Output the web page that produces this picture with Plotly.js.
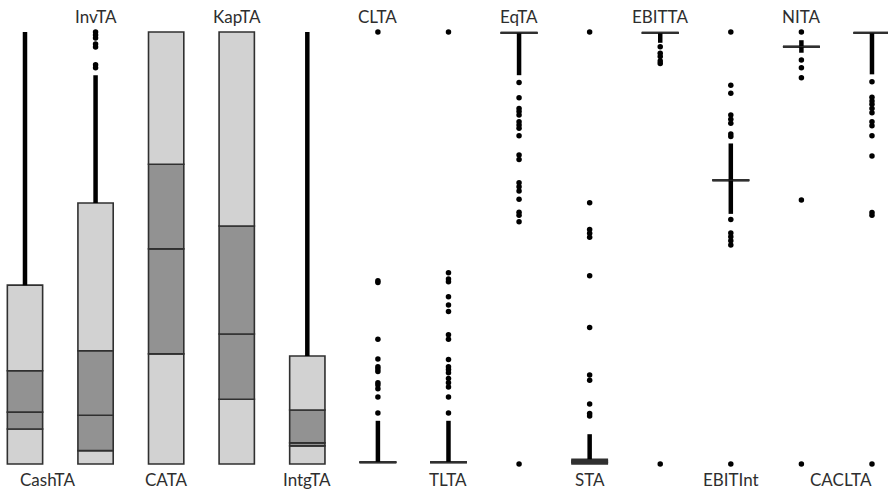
<!DOCTYPE html>
<html>
<head>
<meta charset="utf-8">
<script src="https://cdn.plot.ly/plotly-3.0.1.min.js"></script>
<style>html,body{margin:0;padding:0;background:#fff;}#chart{width:888px;height:493px;}</style>
</head>
<body>
<div id="chart"></div>
<script>
// Variable names (columns, normalised 0..1 each)
const names = ['CashTA','InvTA','CATA','KapTA','IntgTA','CLTA','TLTA','EqTA','STA','EBITTA','EBITInt','NITA','CACLTA'];

// Box boundaries (outer low, lower quartile, median, upper quartile, outer high)
const boxLo  = [0.000, 0.000, 0.000, 0.000, 0.000, 0.0030, 0.0030, 0.9970, 0.000, 0.9970, 0.6560, 0.9650, 0.9970];
const boxQ1  = [0.081, 0.031, 0.255, 0.150, 0.042, 0.0035, 0.0035, 0.9975, 0.003, 0.9975, 0.6565, 0.9655, 0.9975];
const boxMed = [0.120, 0.113, 0.498, 0.301, 0.049, 0.0040, 0.0040, 0.9980, 0.005, 0.9980, 0.6570, 0.9660, 0.9980];
const boxQ3  = [0.216, 0.262, 0.694, 0.551, 0.125, 0.0045, 0.0045, 0.9985, 0.008, 0.9985, 0.6575, 0.9665, 0.9985];
const boxHi  = [0.414, 0.604, 1.000, 1.000, 0.250, 0.0050, 0.0050, 0.9990, 0.011, 0.9990, 0.6580, 0.9670, 0.9990];

// Dense-point runs (whiskers) above / below the boxes (null = none)
const whiskerTop    = [1.000, 0.900, null, null, 1.000, 0.100, 0.100, null, 0.069, null, 0.742, 0.981, null];
const whiskerBottom = [null, null, null, null, null, null, null, 0.900, null, 0.975, 0.579, 0.952, 0.902];

// Individual outlying points per variable
const outCashTA  = [];
const outInvTA   = [1.000, 0.993, 0.986, 0.972, 0.965, 0.924, 0.917];
const outCATA    = [];
const outKapTA   = [];
const outIntgTA  = [];
const outCLTA    = [1.000, 0.424, 0.420, 0.289, 0.243, 0.225, 0.220, 0.214, 0.188, 0.183, 0.174, 0.155, 0.118];
const outTLTA    = [1.000, 0.443, 0.428, 0.422, 0.387, 0.368, 0.353, 0.299, 0.289, 0.242, 0.225, 0.219, 0.211, 0.198, 0.188, 0.178, 0.155, 0.118];
const outEqTA    = [0.883, 0.848, 0.823, 0.816, 0.808, 0.792, 0.785, 0.777, 0.760, 0.715, 0.705, 0.651, 0.642, 0.632, 0.613, 0.583, 0.576, 0.561, 0.000];
const outSTA     = [1.000, 0.605, 0.543, 0.534, 0.525, 0.436, 0.316, 0.206, 0.194, 0.139, 0.117, 0.111];
const outEBITTA  = [0.966, 0.951, 0.943, 0.933, 0.927, 0.000];
const outEBITInt = [1.000, 0.877, 0.858, 0.808, 0.798, 0.789, 0.764, 0.758, 0.566, 0.535, 0.526, 0.517, 0.507, 0.000];
const outNITA    = [1.000, 0.935, 0.917, 0.894, 0.611, 0.000];
const outCACLTA  = [0.885, 0.849, 0.840, 0.833, 0.823, 0.813, 0.792, 0.783, 0.760, 0.713, 0.582, 0.576, 0.000];
const outliers = [outCashTA, outInvTA, outCATA, outKapTA, outIntgTA, outCLTA, outTLTA, outEqTA, outSTA, outEBITTA, outEBITInt, outNITA, outCACLTA];

const idx = names.map((_, i) => i);
const LIGHT = '#d2d2d2', DARK = '#929292', EDGE = '#303030';

function seg(base, top, color) {
  return {
    type: 'bar', x: idx, base: base, y: top.map((t, i) => t - base[i]),
    width: 0.5, marker: {color: color, line: {color: EDGE, width: 1.6}},
    hoverinfo: 'skip', showlegend: false
  };
}

// whisker lines
const wx = [], wy = [];
idx.forEach(i => {
  if (whiskerTop[i] !== null) { wx.push(i, i, null); wy.push(boxHi[i], whiskerTop[i], null); }
  if (whiskerBottom[i] !== null) { wx.push(i, i, null); wy.push(whiskerBottom[i], boxLo[i], null); }
});

// outlier points
const ox = [], oy = [];
outliers.forEach((arr, i) => arr.forEach(v => { ox.push(i); oy.push(v); }));

const traces = [
  seg(boxLo, boxQ1, LIGHT),
  seg(boxQ1, boxMed, DARK),
  seg(boxMed, boxQ3, DARK),
  seg(boxQ3, boxHi, LIGHT),
  {type: 'scatter', mode: 'lines', x: wx, y: wy, line: {color: '#000', width: 4.5}, cliponaxis: false, hoverinfo: 'skip', showlegend: false},
  {type: 'scatter', mode: 'markers', x: ox, y: oy, marker: {color: '#000', size: 5.5}, cliponaxis: false, hoverinfo: 'skip', showlegend: false}
];

const annotations = names.map((n, i) => {
  const top = i % 2 === 1;
  let xanchor = 'center', xshift = 0;
  if (i === 0) { xanchor = 'left'; xshift = -7; }
  if (i === names.length - 1) { xanchor = 'right'; xshift = 2; }
  return {
    text: n, x: i, xref: 'x', y: top ? 1.027 : -0.028, yref: 'paper',
    xanchor: xanchor, yanchor: 'middle', xshift: xshift, showarrow: false,
    font: {family: 'Lato, "Open Sans", sans-serif', size: 17, color: '#2e2e2e'}
  };
});

const layout = {
  width: 888, height: 493,
  margin: {l: 0, r: 0, t: 28, b: 26},
  paper_bgcolor: '#fff', plot_bgcolor: '#fff',
  barmode: 'overlay', showlegend: false,
  xaxis: {range: [-0.354, 12.227], visible: false, fixedrange: true},
  yaxis: {range: [-0.00694, 1.00926], visible: false, fixedrange: true},
  annotations: annotations
};

Plotly.newPlot('chart', traces, layout, {displayModeBar: false, staticPlot: true});
</script>
</body>
</html>
